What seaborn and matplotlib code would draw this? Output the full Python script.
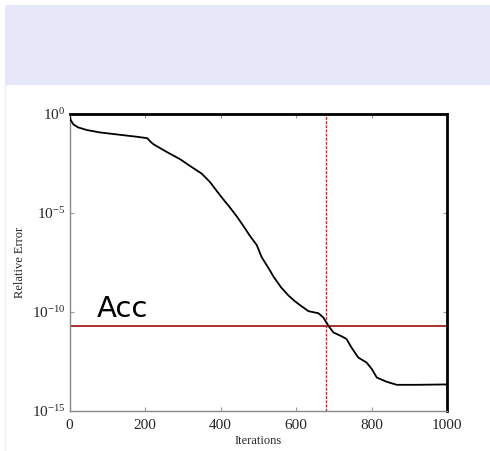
import matplotlib
matplotlib.use("Agg")
import matplotlib.pyplot as plt
import seaborn as sns
import pandas as pd
from matplotlib.patches import Rectangle
from matplotlib.lines import Line2D
from matplotlib.ticker import LogFormatterMathtext, NullLocator

# ---- data ----
iterations = [0, 3, 10, 23, 46, 81, 134, 178, 206, 213, 222, 257, 293, 319, 350,
              372, 390, 407, 425, 445, 460, 478, 496, 509, 531, 540, 560, 580, 597,
              611, 633, 659, 672, 686, 699, 721, 734, 747, 765, 787, 801, 814,
              840, 867, 920, 1000]
rel_error = [1.0, 0.5, 0.30, 0.21, 0.155, 0.117, 0.089, 0.071, 0.060, 0.043,
             0.030, 1.23e-2, 5.2e-3, 2.4e-3, 9.8e-4, 3.7e-4, 1.3e-4, 5.0e-5,
             1.9e-5, 6.0e-6, 2.3e-6, 7.0e-7, 2.4e-7, 5.9e-8, 1.26e-8, 6.3e-9,
             1.8e-9, 6.8e-10, 3.5e-10, 2.2e-10, 1.1e-10, 8.7e-11, 5.4e-11,
             2.0e-11, 9.3e-12, 5.9e-12, 4.3e-12, 1.6e-12, 5.0e-13, 2.8e-13,
             1.3e-13, 4.9e-14, 3.0e-14, 2.1e-14, 2.1e-14, 2.2e-14]
acc_level = 2.0e-11
acc_iteration = 680
x_ticks = [0, 200, 400, 600, 800, 1000]
y_ticks = [1e0, 1e-5, 1e-10, 1e-15]
acc_label = "Acc"

df = pd.DataFrame({"Iterations": iterations, "Relative Error": rel_error})

sns.set_style("ticks")
plt.rcParams["font.family"] = ["Liberation Serif", "DejaVu Serif"]
plt.rcParams["mathtext.fontset"] = "custom"
plt.rcParams["mathtext.rm"] = "Liberation Serif"
plt.rcParams["mathtext.it"] = "Liberation Serif:italic"
plt.rcParams["axes.unicode_minus"] = False

fig = plt.figure(figsize=(4.90, 4.51), dpi=100)
fig.patch.set_facecolor("white")

# lavender header band
fig.patches.append(Rectangle((5 / 490, 1 - 85 / 451), 1 - 5 / 490, 80 / 451,
                             transform=fig.transFigure, facecolor="#e7e7fa",
                             edgecolor="none", zorder=0))
fig.lines.append(Line2D([5 / 490, 5 / 490], [0, 1 - 85 / 451], transform=fig.transFigure,
                        color="#eeeef4", lw=1))

ax = fig.add_axes([69.5 / 490, 1 - 411 / 451, (447 - 69.5) / 490, (411 - 114) / 451])

sns.lineplot(data=df, x="Iterations", y="Relative Error", ax=ax, color="black",
             lw=1.3, zorder=3)
ax.axhline(acc_level, color="#a8302e", lw=1.4, zorder=2)
ax.axvline(acc_iteration, color="#d42020", lw=1.0, ls=(0, (2, 1)), zorder=2)

ax.set_yscale("log")
ax.set_xlim(0, 1000)
ax.set_ylim(1e-15, 1e0)
ax.set_xticks(x_ticks)
ax.set_xticklabels([str(t) for t in x_ticks])
ax.set_yticks(y_ticks)
ax.yaxis.set_major_formatter(LogFormatterMathtext())
ax.yaxis.set_minor_locator(NullLocator())

ax.tick_params(axis="both", which="major", direction="in", length=3, width=0.8,
               color="#999999", labelsize=11, top=True, right=True, pad=6)
ax.tick_params(axis="y", pad=3)

for side in ("left", "bottom"):
    ax.spines[side].set_color("#888888")
    ax.spines[side].set_linewidth(1.0)
for side in ("top", "right"):
    ax.spines[side].set_visible(True)
    ax.spines[side].set_color("black")
    ax.spines[side].set_linewidth(2.0)

ax.set_xlabel("Iterations", fontsize=9, labelpad=2)
ax.set_ylabel("Relative Error", fontsize=9, labelpad=4)

ax.text(73, 5.8e-11, acc_label, fontsize=21, family=["DejaVu Sans"], color="black",
        ha="left", va="baseline")

fig.savefig("out.png", dpi=100)
